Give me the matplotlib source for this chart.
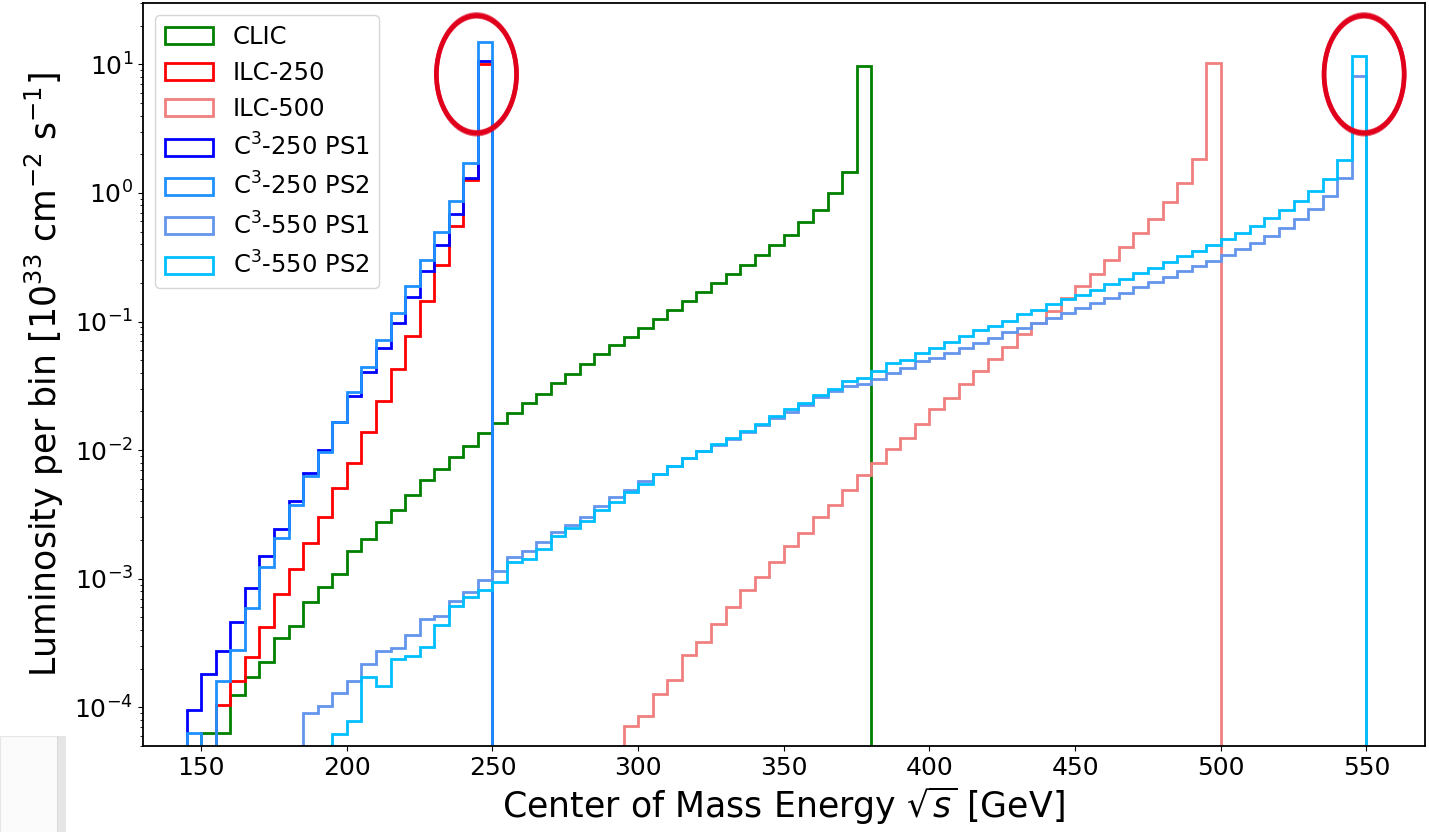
import numpy as np
import matplotlib
matplotlib.use('Agg')
import matplotlib.pyplot as plt
import matplotlib.transforms as mtransforms
from matplotlib.patches import Ellipse, Rectangle, Patch

BIN_W = 5  # GeV

# luminosity per 5 GeV bin [1e33 cm^-2 s^-1], first value = bin starting at *_start
clic_start = 150
clic = [6.3e-5, 6.3e-5, 1.24e-4, 1.73e-4, 2.25e-4, 3.47e-4, 4.3e-4, 6.6e-4, 8.6e-4, 1.09e-3,
        1.63e-3, 2.04e-3, 2.75e-3, 3.44e-3, 4.5e-3, 5.9e-3, 7.1e-3, 8.8e-3, 1.08e-2, 1.35e-2,
        1.62e-2, 1.94e-2, 2.34e-2, 0.0275, 0.0331, 0.0389, 0.0465, 0.0556, 0.0653, 0.0762,
        0.0895, 0.105, 0.1225, 0.144, 0.169, 0.200, 0.235, 0.277, 0.327, 0.392,
        0.474, 0.594, 0.741, 1.0, 1.45, 9.75]

ilc250_start = 155
ilc250 = [1.04e-4, 1.6e-4, 2.47e-4, 4.2e-4, 7.6e-4, 1.18e-3, 1.89e-3, 3.0e-3, 5.05e-3, 8.0e-3,
          0.0139, 0.024, 0.0425, 0.077, 0.144, 0.277, 0.55, 1.25, 10.0]

ilc500_start = 295
ilc500 = [7.2e-5, 8.6e-5, 1.26e-4, 1.62e-4, 2.54e-4, 3.22e-4, 4.42e-4, 6.0e-4, 8.2e-4, 1.03e-3,
          1.35e-3, 1.81e-3, 2.26e-3, 3.04e-3, 3.74e-3, 4.9e-3, 6.4e-3, 8.0e-3, 0.0102, 0.0125,
          0.0159, 0.0208, 0.0253, 0.0325, 0.0412, 0.0510, 0.0637, 0.0794, 0.098, 0.1205,
          0.153, 0.190, 0.236, 0.303, 0.380, 0.489, 0.631, 0.849, 1.19, 1.83, 10.2]

c3_250_ps1_start = 145
c3_250_ps1 = [9.6e-5, 1.8e-4, 2.76e-4, 4.6e-4, 8.45e-4, 1.5e-3, 2.44e-3, 4.0e-3, 6.6e-3, 1.0e-2,
              1.66e-2, 0.0264, 0.0405, 0.0627, 0.098, 0.156, 0.246, 0.396, 0.68, 1.31, 10.6]

c3_250_ps2_start = 145
c3_250_ps2 = [6.3e-5, 0.0, 1.6e-4, 2.8e-4, 5.9e-4, 1.23e-3, 2.07e-3, 3.74e-3, 6.25e-3, 9.6e-3,
              1.66e-2, 0.0281, 0.0446, 0.0718, 0.117, 0.190, 0.303, 0.50, 0.87, 1.71, 15.0]

c3_550_ps1_start = 185
c3_550_ps1 = [9.06e-5, 1.02e-4, 1.29e-4, 1.6e-4, 2.16e-4, 2.74e-4, 2.9e-4, 3.67e-4, 4.9e-4, 5.1e-4,
              6.7e-4, 7.9e-4, 9.7e-4, 1.15e-3, 1.47e-3, 1.63e-3, 1.92e-3, 2.30e-3, 2.63e-3, 3.0e-3,
              3.7e-3, 4.35e-3, 4.9e-3, 5.7e-3, 6.5e-3, 7.5e-3, 8.7e-3, 9.9e-3, 0.0109, 0.0122,
              0.0139, 0.0156, 0.0179, 0.0198, 0.0223, 0.0261, 0.0289, 0.0314, 0.0325, 0.036,
              0.0396, 0.0438, 0.0493, 0.0524, 0.0573, 0.0626, 0.0685, 0.0749, 0.0828, 0.0895,
              0.098, 0.107, 0.117, 0.128, 0.140, 0.153, 0.167, 0.186, 0.202, 0.221,
              0.246, 0.269, 0.294, 0.332, 0.367, 0.409, 0.466, 0.535, 0.628, 0.750,
              0.94, 1.31, 8.1]

c3_550_ps2_start = 195
c3_550_ps2 = [6.2e-5, 7.8e-5, 1.73e-4, 1.46e-4, 2.36e-4, 2.5e-4, 2.94e-4, 4.4e-4, 6.1e-4, 7.2e-4,
              8.1e-4, 9.4e-4, 1.35e-3, 1.43e-3, 1.70e-3, 2.16e-3, 2.47e-3, 2.83e-3, 3.44e-3, 3.97e-3,
              4.7e-3, 5.45e-3, 6.5e-3, 7.5e-3, 8.7e-3, 9.9e-3, 0.0111, 0.0124, 0.0141, 0.0161,
              0.0185, 0.0210, 0.0232, 0.0267, 0.0301, 0.0345, 0.0366, 0.0412, 0.0473, 0.0499,
              0.0565, 0.0622, 0.0692, 0.0775, 0.0855, 0.092, 0.1007, 0.1135, 0.124, 0.136,
              0.150, 0.162, 0.177, 0.196, 0.215, 0.239, 0.262, 0.289, 0.322, 0.356,
              0.397, 0.439, 0.489, 0.550, 0.638, 0.731, 0.859, 1.03, 1.29, 1.81, 11.6]

series = [
    ('CLIC', clic_start, clic, 'green'),
    ('ILC-250', ilc250_start, ilc250, 'red'),
    ('ILC-500', ilc500_start, ilc500, 'lightcoral'),
    ('C$^3$-250 PS1', c3_250_ps1_start, c3_250_ps1, 'blue'),
    ('C$^3$-250 PS2', c3_250_ps2_start, c3_250_ps2, 'dodgerblue'),
    ('C$^3$-550 PS1', c3_550_ps1_start, c3_550_ps1, 'cornflowerblue'),
    ('C$^3$-550 PS2', c3_550_ps2_start, c3_550_ps2, 'deepskyblue'),
]

# peaks that got circled by hand in the original
circled = [244.5, 549.2]

fig = plt.figure(figsize=(14.29, 8.32), dpi=100)
ax = fig.add_axes([0.1, 0.1034, 0.897, 0.893])

handles = []
for label, start, vals, color in series:
    vals = np.clip(np.asarray(vals, dtype=float), 1e-7, None)
    edges = start + BIN_W * np.arange(len(vals) + 1)
    ax.stairs(vals, edges, baseline=1e-7, fill=False, color=color, lw=2)
    # hist(histtype='step') style legend box
    handles.append(Patch(fill=False, edgecolor=color, lw=2, label=label))

ax.set_yscale('log')
ax.set_xlim(130, 570)
ax.set_ylim(5e-5, 30)
ax.set_xticks(np.arange(150, 551, 50))
ax.tick_params(labelsize=18)
ax.set_xlabel(r'Center of Mass Energy $\sqrt{s}$ [GeV]', fontsize=25)
ax.set_ylabel(r'Luminosity per bin [$10^{33}$ cm$^{-2}$ s$^{-1}$]', fontsize=25, labelpad=6)
for sp in ax.spines.values():
    sp.set_linewidth(1.3)

ax.legend(handles=handles, loc='upper left', fontsize=17.5, labelspacing=0.5,
          borderaxespad=0.5)

# red hand-drawn circles
trans = mtransforms.blended_transform_factory(ax.transData, ax.transAxes)
for cx in circled:
    for dw, dh, lw, a in [(0, 0, 3.4, 1.0), (0.9, 0.007, 1.3, 0.6), (-0.9, -0.006, 1.3, 0.6)]:
        ax.add_patch(Ellipse((cx, 0.904), 27.5 + dw, 0.158 + dh, transform=trans,
                             fill=False, ec='#e0001b', lw=lw, alpha=a, clip_on=False, zorder=5))

# leftover screenshot box at bottom-left corner
fig.patches.append(Rectangle((0, 0), 0.04, 0.115, transform=fig.transFigure,
                             fc='#fbfbfb', ec='#e6e6e6', lw=0.8, zorder=0))
fig.patches.append(Rectangle((0.04, 0), 0.006, 0.115, transform=fig.transFigure,
                             fc='#d4d4d4', ec='none', alpha=0.6, zorder=0))

fig.savefig('out.png', dpi=100)
